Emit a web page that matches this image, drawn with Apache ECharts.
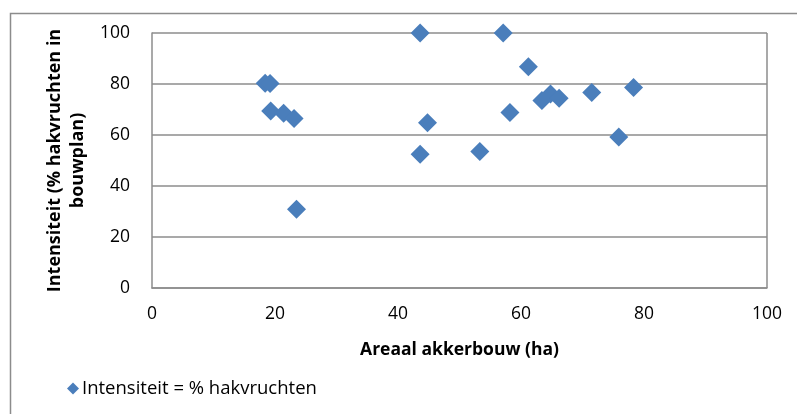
<!DOCTYPE html>
<html>
<head>
<meta charset="utf-8">
<script src="https://cdn.jsdelivr.net/npm/echarts@6/dist/echarts.min.js"></script>
<style>
html,body{margin:0;padding:0;background:#fff;}
#c{width:797px;height:414px;}
</style>
</head>
<body>
<div id="c"></div>
<script>
const areaal = [18.4, 19.2, 19.3, 21.4, 23.1, 23.5, 43.6, 57.1, 61.2, 43.6, 44.8, 53.3, 58.2, 63.4, 64.8, 66.2, 71.5, 75.9, 78.3];
const intensiteit = [80.3, 80.2, 69.4, 68.5, 66.5, 30.9, 100, 100, 86.8, 52.5, 64.8, 53.5, 68.8, 73.5, 76.1, 74.4, 76.7, 59.2, 78.6];
const seriesName = 'Intensiteit = % hakvruchten';
const xTitle = 'Areaal akkerbouw (ha)';
const yTitle = 'Intensiteit (% hakvruchten in\nbouwplan)';

const FONT = '"Open Sans", Lato, sans-serif';
const chart = echarts.init(document.getElementById('c'), null, {renderer: 'canvas'});
chart.setOption({
  animation: false,
  backgroundColor: '#fff',
  graphic: [{
    type: 'rect', left: 8, top: 11, silent: true,
    shape: {x: 0, y: 0, width: 800, height: 420},
    style: {fill: 'none', stroke: '#8c8c8c', lineWidth: 1.5}
  }],
  grid: {left: 152, right: 30, top: 33, bottom: 126, containLabel: false},
  legend: {
    left: 62, top: 374,
    itemWidth: 12, itemHeight: 12, itemGap: 4,
    icon: 'diamond',
    textStyle: {fontFamily: FONT, fontSize: 18.5, color: '#000', padding: [0, 0, 0, -2]},
    data: [seriesName]
  },
  xAxis: {
    type: 'value', min: 0, max: 100, interval: 20,
    name: xTitle, nameLocation: 'middle', nameGap: 53,
    nameTextStyle: {fontFamily: FONT, fontSize: 17.5, fontWeight: 'bold', color: '#000'},
    axisLine: {show: true, lineStyle: {color: '#8c8c8c', width: 1.5}},
    axisTick: {show: false},
    splitLine: {show: false},
    axisLabel: {fontFamily: FONT, fontSize: 17.5, color: '#000', margin: 17}
  },
  yAxis: {
    type: 'value', min: 0, max: 100, interval: 20,
    name: yTitle, nameLocation: 'middle', nameGap: 62, nameRotate: 90,
    nameTextStyle: {fontFamily: FONT, fontSize: 18, fontWeight: 'bold', color: '#000', lineHeight: 23, align: 'center'},
    axisLine: {show: true, lineStyle: {color: '#8c8c8c', width: 1.5}},
    axisTick: {show: false},
    splitLine: {show: true, lineStyle: {color: '#8c8c8c', width: 1.5}},
    axisLabel: {fontFamily: FONT, fontSize: 17.5, color: '#000', margin: 22}
  },
  series: [{
    name: seriesName,
    type: 'scatter',
    symbol: 'diamond',
    symbolSize: 19,
    itemStyle: {color: '#4a7ebb', opacity: 1},
    data: areaal.map((x, i) => [x, intensiteit[i]])
  }, {
    type: 'line', silent: true, symbol: 'none',
    markLine: {
      silent: true, symbol: 'none', label: {show: false},
      lineStyle: {color: '#8c8c8c', width: 1.5, type: 'solid'},
      data: [{xAxis: 100}]
    },
    data: []
  }]
});
</script>
</body>
</html>
